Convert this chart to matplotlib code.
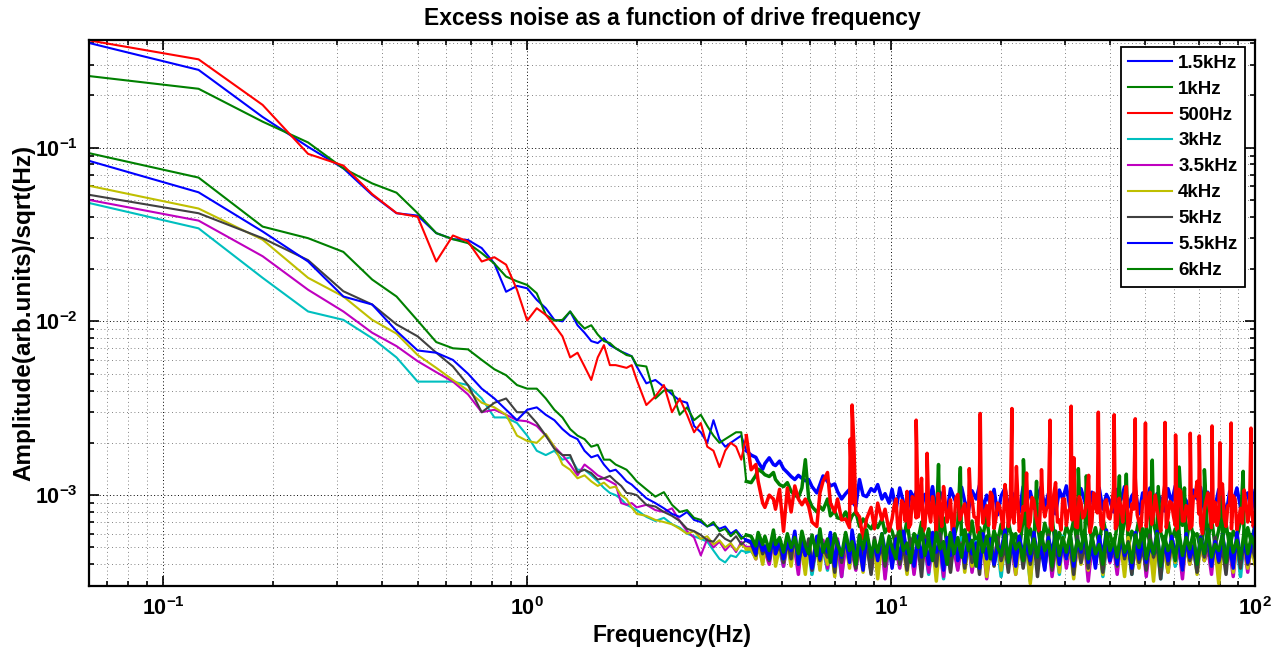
import numpy as np
import matplotlib
matplotlib.use("Agg")
import matplotlib.pyplot as plt
from matplotlib.ticker import LogLocator, FuncFormatter, NullFormatter

# ---------------- data ----------------
# frequency bins (Hz); spectral resolution 0.0625 Hz
f_lo = np.arange(1, 33) * 0.0625                 # 0.0625 .. 2.0
f_mid = 2.0 + np.arange(1, 17) * 0.125            # 2.125 .. 4.0
f_hi = np.round(np.geomspace(4.125, 100.0, 140) / 0.0625) * 0.0625   # 4.125 .. 100
f_hi2 = np.sqrt(f_hi[39:-1] * f_hi[40:])          # extra bins between 10 and 100 Hz (500 Hz trace)

labels = ["1.5kHz", "1kHz", "500Hz", "3kHz", "3.5kHz", "4kHz", "5kHz", "5.5kHz", "6kHz"]

# ---- 1.5 kHz ----
lo_1500 = [0.40, 0.28, 0.150, 0.101, 0.076, 0.0534, 0.0419, 0.0406, 0.0322, 0.0297, 0.0294, 0.0264,
           0.0215, 0.0148, 0.0160, 0.0155, 0.0133, 0.0119, 0.0102, 0.0100, 0.0114, 0.0095, 0.0086, 0.0077,
           0.0075, 0.0080, 0.0073, 0.0070, 0.0067, 0.0065, 0.0063, 0.0055]
mid_1500 = [0.0044, 0.0046, 0.0042, 0.0038, 0.0035, 0.0034, 0.0025, 0.0023, 0.0020, 0.0027, 0.0021,
            0.0019, 0.0020, 0.0021, 0.0022, 0.0018]
hi_1500 = [17, 16.5, 15.5, 14.1, 15.2, 16.4, 15, 14.8, 15.7, 14.2, 13.5, 12.8, 12.3, 13, 12.5, 12.1, 12.3,
           11.2, 10.3, 11.5, 12.9, 12, 11.3, 11.6, 10.5, 9.5, 10.2, 10.8, 9.2, 8.6, 12.3, 10, 9.8, 10.9,
           10.5, 11.5, 9.5, 10.2, 9.0,
           10.8, 8.2, 11.0, 9.1, 7.8, 10.5, 9.6, 11.3, 8.4, 10.1, 9.0, 11.2, 8.0, 10.4, 9.3, 7.9, 10.9, 9.7, 8.6, 11.1, 9.2,
           8.1, 10.6, 9.5, 11.4, 8.3, 10.0, 8.9, 10.8, 7.7, 9.9, 11.0, 8.5, 10.3, 9.4, 8.0, 11.2, 9.1, 10.5, 8.4, 9.8,
           11.1, 8.6, 10.2, 9.0, 7.8, 10.7, 9.5, 11.3, 8.2, 10.0, 8.8, 10.9, 9.3, 7.9, 10.4, 9.7, 11.0, 8.3, 10.1, 9.2,
           8.0, 10.8, 9.4, 11.2, 8.5, 9.9, 10.6, 7.8, 10.3, 9.1, 11.0, 8.4, 10.2, 9.6, 8.1, 10.9, 9.0, 11.3, 8.7, 10.0,
           9.3, 7.9, 10.7, 9.5, 11.1, 8.2, 10.4, 9.0, 8.6, 10.8, 9.7, 7.7, 10.5, 9.2, 11.0, 8.5, 9.8, 10.3, 8.0, 10.6]

# ---- 1 kHz ----
lo_1000 = [0.258, 0.218, 0.141, 0.107, 0.076, 0.0622, 0.0550, 0.0419, 0.0322, 0.0297, 0.0282, 0.0247,
           0.0215, 0.0181, 0.0170, 0.0162, 0.0145, 0.0109, 0.0101, 0.0102, 0.0114, 0.0100, 0.0091, 0.0095,
           0.0084, 0.0077, 0.0075, 0.0070, 0.0067, 0.0064, 0.0063, 0.0056]
mid_1000 = [0.0055, 0.0036, 0.0040, 0.0040, 0.0029, 0.0032, 0.0027, 0.0029, 0.0025, 0.0022, 0.0020,
            0.0021, 0.0022, 0.0023, 0.0023, 0.0012]
hi_1000 = [11.8, 13.0, 14.1, 13.5, 13.1, 12.8, 13.5, 12.3, 11.5, 11.2, 11.8, 10.5, 10.0, 9.7, 11.0, 16.0,
           9.5, 8.6, 8.0, 8.6, 8.2, 9.5, 7.6, 8.1, 7.4, 7.3, 8.0, 7.0, 7.6, 8.0, 6.6, 7.3, 6.8, 6.4, 7.0, 6.5,
           7.3, 6.1, 6.6,
           6.2, 5.1, 6.8, 5.5, 7.2, 4.9, 6.0, 5.6, 7.0, 5.2, 6.4, 4.8, 6.6, 5.4, 7.4, 5.0, 6.1, 5.7, 6.9, 4.7, 6.3,
           5.3, 7.1, 5.0, 6.5, 5.8, 7.6, 4.9, 6.2, 5.4, 6.8, 5.1, 7.0, 5.6, 6.0, 4.8, 7.3, 5.5, 6.4, 5.2, 6.7,
           5.0, 6.9, 5.7, 7.5, 4.9, 6.1, 5.3, 6.6, 5.8, 7.2, 5.1, 6.3, 4.8, 7.0, 5.5, 6.5, 5.2, 7.4, 5.9, 6.0,
           4.9, 6.8, 5.4, 7.1, 5.0, 6.2, 5.7, 7.3, 4.8, 6.5, 5.3, 6.9, 5.6, 6.1, 5.1, 7.0, 5.5, 6.4, 4.9, 6.7,
           5.2, 7.2, 5.8, 6.0, 4.8, 6.6, 5.4, 7.4, 5.1, 6.3, 5.6, 6.9, 5.0, 6.2, 5.7, 7.1, 4.9, 6.5, 5.3, 6.8]
spike_f_1000 = [13.5, 15.5, 23.1, 25.1, 32.7, 34.4, 42.4, 44.3, 52.2, 54.2, 61.9, 64.0, 72.6, 81.3, 92.8]
spike_v_1000 = [15.0, 14.4, 16.0, 12.0, 14.2, 12.9, 12.9, 13.2, 15.9, 11.2, 14.5, 11.0, 14.0, 11.2, 13.7]

# ---- 500 Hz ----
lo_500 = [0.414, 0.322, 0.176, 0.092, 0.0788, 0.054, 0.042, 0.040, 0.0221, 0.0312, 0.0288, 0.0221,
          0.0234, 0.0212, 0.0152, 0.0101, 0.0119, 0.0109, 0.0095, 0.0082, 0.0062, 0.0066, 0.0055, 0.0046,
          0.0062, 0.0073, 0.0056, 0.0056, 0.0055, 0.0054, 0.0056, 0.0046]
mid_500 = [0.0033, 0.0037, 0.0043, 0.0030, 0.0036, 0.0029, 0.0023, 0.0026, 0.0019, 0.0018, 0.00145,
           0.0018, 0.0020, 0.0019, 0.0016, 0.0022]
hi_500 = [14, 15, 12, 9, 8.5, 10, 9.5, 8.3, 10.8, 6.2, 11, 8, 11.3, 9.5, 8.8, 9.5, 8.6, 7, 6.6, 10.3, 12,
          13.5, 9, 8, 9.5, 7.2, 7.3, 6.5, 9, 8, 7.5, 5.6, 7.3, 8.5, 6.4, 9, 7.2, 8.3, 6.2,
          7.3, 9.5, 6.2, 8.8, 10.5, 6.8, 9.2, 7.5, 12.5, 6.5, 8.2, 9.8, 6.1, 8.5, 11.2, 7.0, 9.4, 6.6, 10.1, 7.8, 8.9,
          6.3, 9.6, 7.4, 12.8, 6.9, 8.7, 10.4, 6.4, 9.0, 7.7, 11.5, 6.6, 8.3, 9.9, 6.2, 8.6, 13.4, 7.1, 9.3, 6.8,
          10.2, 7.5, 8.8, 6.3, 11.8, 7.2, 9.5, 6.7, 8.4, 10.6, 6.5, 9.1, 7.6, 12.2, 6.9, 8.6, 10.0, 6.4, 9.4, 7.3,
          11.0, 6.8, 8.5, 9.8, 6.3, 8.9, 12.6, 7.0, 9.2, 6.6, 10.4, 7.7, 8.3, 6.2, 11.4, 7.4, 9.0, 6.7, 10.8, 7.1,
          8.7, 6.4, 9.7, 12.0, 6.9, 8.2, 10.3, 6.5, 9.1, 7.5, 11.6, 6.6, 8.8, 9.9, 6.3, 8.4, 10.7, 7.0, 9.3, 7.2]
hi2_500 = [8.6, 6.4, 9.3, 7.1, 6.5, 9.8, 7.4, 8.9, 6.2, 9.5, 7.0, 8.3, 10.2, 6.6, 9.0, 7.7, 6.3, 9.6, 7.2, 8.5,
           6.8, 10.4, 7.5, 6.1, 9.2, 8.0, 6.7, 9.9, 7.3, 8.7, 6.4, 9.4, 7.8, 6.9, 10.6, 7.1, 8.2, 6.5, 9.7, 7.6,
           6.2, 9.0, 8.4, 6.8, 10.1, 7.0, 6.3, 9.5, 8.1, 7.2, 6.6, 9.8, 7.4, 8.8, 6.1, 10.3, 7.9, 6.7, 9.1, 7.5,
           8.6, 6.4, 9.6, 7.0, 11.2, 6.9, 8.3, 7.7, 6.2, 9.4, 8.0, 6.8, 10.0, 7.3, 8.9, 6.5, 9.2, 7.6, 6.3, 10.5,
           7.1, 8.4, 6.6, 9.9, 7.8, 6.0, 9.3, 8.2, 7.0, 6.7, 10.2, 7.4, 8.7, 6.4, 9.5, 7.2, 6.9, 9.0, 8.1, 6.6]
spike_f_500 = [7.72, 7.8125, 7.9, 11.72, 12.56, 16.4, 17.58, 21.48, 22.1, 25.9, 27.34, 31.25, 31.8, 34.9,
               37.11, 41.02, 46.88, 50.0, 56.6, 60.5, 66.4, 70.3, 76.2, 80.1, 86.0, 97.5]
spike_v_500 = [21.0, 33.0, 20.0, 27.0, 17.4, 14.2, 29.5, 31.5, 14.6, 14.0, 27.0, 32.5, 16.4, 13.0,
               30.0, 29.0, 27.5, 26.0, 26.2, 22.2, 22.7, 21.9, 25.0, 20.0, 26.0, 24.3]

# ---- 3 kHz ----
lo_3000 = [0.0480, 0.0343, 0.0178, 0.0114, 0.0102, 0.0080, 0.0062, 0.0045, 0.0045, 0.0045, 0.0043,
           0.0036, 0.0028, 0.0028, 0.0026, 0.0022, 0.0018, 0.0017, 0.0018, 0.0016, 0.00165, 0.0014, 0.0014,
           0.0013, 0.0012, 0.0011, 0.00103, 0.0010, 0.00095, 0.00088, 0.00085, 0.00082]
mid_3000 = [0.00075, 0.00071, 0.00074, 0.00068, 0.00065, 0.00060, 0.00058, 0.00056, 0.00054, 0.00048,
            0.00043, 0.00041, 0.00045, 0.00044, 0.00048, 0.00047]
hi_3000 = [4.8, 4.4, 5.3, 4.1, 5.0, 4.5, 5.5, 4.2, 4.9, 3.9, 5.4, 4.2, 5.1, 3.8, 5.6, 4.1, 4.8, 3.5, 5.2, 4.4,
           5.0, 3.7, 5.5, 4.1, 5.2, 3.4, 5.6, 4.0, 4.9, 3.8, 5.3, 4.3, 5.7, 3.6, 5.0, 4.2, 5.4, 3.5, 5.1, 4.0,
           5.5, 3.9, 5.0, 4.2, 5.3, 3.6, 5.8, 4.1, 5.1, 3.5, 5.4, 4.4, 5.0, 3.3, 5.6, 4.0, 5.2, 3.8, 5.7, 4.2,
           5.1, 3.7, 5.4, 4.1, 5.9, 3.6, 5.2, 4.3, 5.0, 3.4, 5.5, 4.0, 5.3, 3.8, 5.7, 4.2, 5.0, 3.2, 5.4, 4.1,
           5.6, 3.9, 5.1, 4.3, 5.3, 3.5, 5.8, 4.0, 5.0, 3.7, 5.4, 4.2, 6.1, 3.6, 5.2, 4.1, 5.5, 3.4, 5.0, 4.3,
           5.3, 3.8, 5.7, 4.0, 5.1, 3.5, 5.4, 4.2, 5.9, 3.7, 5.0, 4.1, 5.6, 3.3, 5.2, 4.4, 5.5, 3.9, 5.0, 3.6,
           5.4, 4.1, 5.0, 3.6, 5.7, 4.2, 5.2, 3.8, 5.5, 3.5, 5.1, 4.3, 5.8, 3.9, 5.3, 3.4, 5.6, 4.0, 5.1, 4.2]

# ---- 3.5 kHz ----
lo_3500 = [0.0500, 0.0380, 0.0237, 0.0152, 0.0114, 0.0086, 0.0072, 0.0059, 0.0051, 0.0045, 0.0038,
           0.0030, 0.0031, 0.0029, 0.0027, 0.00266, 0.0025, 0.0022, 0.0019, 0.0017, 0.0015, 0.0013, 0.0015,
           0.0014, 0.0013, 0.00125, 0.0012, 0.00115, 0.0009, 0.00088, 0.0009, 0.00085]
mid_3500 = [0.00088, 0.00082, 0.00080, 0.00084, 0.00071, 0.00062, 0.00057, 0.00045, 0.00056, 0.00050,
            0.00054, 0.00048, 0.00052, 0.00047, 0.00054, 0.00050]
hi_3500 = [5.0, 4.3, 5.5, 4.5, 4.8, 4.0, 5.6, 4.3, 5.2, 3.9, 5.4, 4.4, 4.9, 3.5, 5.7, 4.2, 5.1, 3.7, 5.3, 4.0,
           5.5, 3.8, 5.0, 4.3, 5.6, 3.4, 5.2, 4.1, 4.8, 3.7, 5.4, 4.2, 5.8, 3.6, 5.1, 4.0, 5.3, 3.3, 5.6, 4.4,
           4.9, 3.8, 5.5, 4.1, 5.2, 3.5, 5.7, 4.3, 5.0, 3.6, 5.4, 4.0, 5.1, 3.4, 5.6, 4.2, 4.9, 3.7, 5.3, 4.1,
           5.7, 3.6, 5.1, 4.3, 5.4, 3.3, 5.0, 4.0, 5.6, 3.8, 5.2, 4.2, 4.8, 3.5, 5.5, 4.1, 5.3, 3.7, 5.7, 3.9,
           5.2, 4.1, 5.5, 3.4, 5.0, 4.2, 5.6, 3.8, 5.3, 3.6, 4.9, 4.3, 5.4, 3.2, 5.1, 4.0, 5.7, 3.7, 5.2, 4.1,
           5.0, 3.5, 5.6, 4.2, 5.3, 3.7, 4.9, 4.0, 5.5, 3.4, 5.2, 4.3, 5.7, 3.8, 5.0, 3.6, 5.4, 4.1, 5.1, 3.3,
           5.6, 4.0, 5.2, 3.7, 5.4, 4.2, 5.0, 3.5, 5.7, 3.9, 5.3, 4.1, 4.9, 3.4, 5.5, 4.3, 5.1, 3.6, 5.4, 4.2]

# ---- 4 kHz ----
lo_4000 = [0.0603, 0.0446, 0.0295, 0.0178, 0.0139, 0.0102, 0.0085, 0.0064, 0.0054, 0.0046, 0.0040,
           0.0034, 0.0032, 0.0029, 0.0022, 0.00205, 0.0020, 0.00225, 0.0019, 0.0015, 0.0014, 0.00125, 0.0013,
           0.0012, 0.00113, 0.00118, 0.0011, 0.00112, 0.0010, 0.00095, 0.00085, 0.00078]
mid_4000 = [0.00076, 0.00072, 0.00070, 0.00068, 0.00064, 0.00060, 0.00062, 0.00056, 0.00058, 0.00052,
            0.00055, 0.00050, 0.00053, 0.00048, 0.00052, 0.00049]
hi_4000 = [4.9, 4.3, 5.4, 4.0, 5.1, 4.4, 5.6, 3.9, 5.0, 4.2, 5.3, 3.9, 5.7, 4.0, 4.8, 3.5, 5.5, 4.3, 5.0, 3.7,
           5.2, 4.0, 5.6, 3.4, 5.0, 4.3, 5.4, 3.8, 5.8, 4.1, 4.9, 3.6, 5.3, 4.4, 5.1, 3.3, 5.5, 4.0, 5.2, 3.9,
           5.6, 4.2, 5.0, 3.5, 5.4, 4.1, 5.7, 3.8, 5.1, 4.4, 5.3, 3.2, 5.5, 4.0, 5.0, 3.7, 5.8, 4.3, 5.2, 3.6,
           5.4, 3.9, 5.1, 4.2, 5.6, 3.4, 5.0, 4.0, 5.5, 3.7, 5.2, 4.3, 5.7, 3.5, 4.9, 4.1, 5.3, 3.1, 5.6, 4.2,
           5.0, 3.8, 5.5, 4.1, 5.2, 3.6, 5.7, 4.3, 4.9, 3.3, 5.4, 4.0, 5.1, 3.7, 5.6, 4.2, 5.0, 3.5, 5.3, 4.4,
           5.5, 3.9, 5.1, 3.4, 5.7, 4.2, 5.0, 3.8, 5.4, 4.0, 5.2, 3.2, 5.6, 4.3, 4.9, 3.6, 5.3, 4.1, 5.8, 3.7,
           5.1, 4.0, 5.5, 3.5, 5.2, 4.2, 5.6, 3.9, 5.0, 3.1, 5.4, 4.1, 5.7, 3.6, 5.1, 4.3, 5.3, 3.8, 5.0, 4.0]

# ---- 5 kHz ----
lo_5000 = [0.0535, 0.0419, 0.0301, 0.0225, 0.0149, 0.0125, 0.0096, 0.0082, 0.0066, 0.0055, 0.0043,
           0.0030, 0.0034, 0.0036, 0.0030, 0.0030, 0.0026, 0.0022, 0.00185, 0.0017, 0.0017, 0.00135, 0.0014,
           0.00134, 0.00123, 0.00125, 0.00129, 0.0012, 0.00113, 0.00103, 0.00102, 0.0010]
mid_5000 = [0.00088, 0.00086, 0.00080, 0.00076, 0.00071, 0.00064, 0.00062, 0.00059, 0.00055, 0.00054,
            0.00060, 0.00056, 0.00054, 0.00058, 0.00052, 0.00055]
hi_5000 = [5.3, 4.5, 5.7, 4.6, 5.0, 4.2, 5.9, 4.6, 5.2, 4.1, 5.5, 4.3, 6.0, 4.0, 5.1, 4.5, 5.6, 3.7, 5.4, 4.2,
           5.0, 4.4, 5.8, 3.6, 5.3, 4.1, 5.6, 4.7, 5.1, 3.8, 5.9, 4.2, 5.4, 3.5, 5.7, 4.4, 5.0, 3.9, 5.5, 4.3,
           5.8, 4.0, 5.2, 3.7, 5.6, 4.5, 5.0, 3.4, 5.7, 4.2, 5.3, 3.9, 6.0, 4.3, 5.1, 3.6, 5.5, 4.6, 5.2, 3.8,
           5.6, 4.1, 5.0, 3.5, 5.9, 4.4, 5.3, 3.9, 5.7, 4.2, 5.1, 3.6, 5.5, 4.5, 5.8, 3.8, 5.2, 4.0, 5.6, 3.4,
           5.4, 4.3, 5.9, 3.7, 5.1, 4.0, 5.6, 4.4, 5.2, 3.5, 5.8, 4.1, 5.3, 3.8, 5.7, 4.6, 5.0, 3.6, 5.5, 4.2,
           5.1, 3.9, 5.8, 4.3, 5.4, 3.5, 5.6, 4.1, 5.0, 3.7, 5.9, 4.4, 5.3, 3.3, 5.7, 4.0, 5.2, 4.5, 5.5, 3.8,
           5.6, 4.2, 5.1, 3.6, 5.8, 4.4, 5.3, 3.9, 5.7, 4.1, 5.0, 3.5, 5.9, 4.3, 5.4, 3.8, 5.6, 4.0, 5.2, 4.4]

# ---- 5.5 kHz ----
lo_5500 = [0.0839, 0.0553, 0.0329, 0.0221, 0.0139, 0.0125, 0.0088, 0.0068, 0.0066, 0.0060, 0.0050,
           0.0041, 0.0036, 0.0031, 0.0027, 0.0031, 0.0032, 0.0029, 0.0027, 0.0024, 0.0022, 0.0021, 0.0018,
           0.00165, 0.0017, 0.0015, 0.00137, 0.0014, 0.0013, 0.0012, 0.00115, 0.00108]
mid_5500 = [0.00096, 0.00090, 0.00084, 0.00078, 0.00075, 0.00080, 0.00072, 0.00070, 0.00066, 0.00068,
            0.00064, 0.00066, 0.00060, 0.00063, 0.00058, 0.00055]
hi_5500 = [5.4, 4.6, 5.9, 4.8, 5.1, 4.3, 6.0, 4.6, 5.6, 4.3, 5.3, 4.8, 6.2, 4.0, 5.5, 4.5, 5.0, 3.8, 5.8, 4.3,
           5.2, 4.7, 6.1, 3.9, 5.4, 4.4, 5.7, 4.1, 6.3, 4.6, 5.0, 3.7, 5.9, 4.5, 5.3, 4.2, 6.0, 4.8, 5.1, 3.8,
           5.6, 4.3, 6.2, 4.6, 4.9, 3.9, 5.8, 4.4, 5.5, 4.0, 6.1, 4.7, 5.2, 3.7, 5.7, 4.5, 6.4, 4.2, 5.0, 4.1,
           5.9, 4.6, 5.3, 3.8, 6.0, 4.3, 5.6, 4.0, 5.1, 4.8, 6.3, 4.1, 5.4, 3.9, 5.8, 4.5, 5.2, 4.2, 6.1, 4.4,
           5.0, 3.7, 5.7, 4.6, 6.2, 4.0, 5.3, 4.3, 5.9, 3.9, 5.5, 4.7, 6.0, 4.1, 5.1, 3.8, 5.8, 4.4, 6.3, 4.2,
           5.4, 4.0, 5.9, 4.5, 5.2, 3.8, 6.1, 4.3, 5.6, 4.1, 5.0, 4.6, 6.2, 3.9, 5.5, 4.2, 5.8, 4.7, 5.3, 3.7,
           6.0, 4.4, 5.1, 4.0, 5.7, 4.6, 6.3, 3.9, 5.4, 4.2, 5.9, 4.5, 5.0, 3.8, 6.1, 4.3, 5.6, 4.1, 5.2, 6.5]

# ---- 6 kHz ----
lo_6000 = [0.0929, 0.0672, 0.0351, 0.0301, 0.0251, 0.0174, 0.0139, 0.0101, 0.0076, 0.0070, 0.0069,
           0.0060, 0.0053, 0.0049, 0.0043, 0.0041, 0.0041, 0.0036, 0.0031, 0.0028, 0.0024, 0.0022, 0.0021,
           0.0019, 0.00195, 0.0016, 0.0016, 0.0015, 0.00145, 0.0014, 0.0013, 0.0012]
mid_6000 = [0.00108, 0.00098, 0.00104, 0.00088, 0.00080, 0.00082, 0.00074, 0.00072, 0.00066, 0.00070,
            0.00062, 0.00064, 0.00058, 0.00062, 0.00056, 0.00059]
hi_6000 = [5.8, 5.1, 6.1, 5.2, 5.8, 4.8, 6.3, 5.2, 5.7, 4.7, 6.0, 5.0, 5.7, 4.6, 6.2, 5.1, 4.6, 5.9, 4.5, 6.4,
           4.7, 5.6, 4.1, 6.0, 5.2, 4.5, 6.1, 4.8, 5.4, 4.0, 5.9, 4.9, 6.3, 4.4, 5.5, 4.7, 6.0, 4.2, 5.8, 5.0,
           4.3, 6.2, 4.8, 5.3, 4.1, 5.9, 5.0, 6.4, 4.5, 5.6, 4.2, 6.1, 4.9, 5.4, 4.0, 6.0, 4.6, 5.7, 4.4, 6.3,
           4.8, 5.5, 3.9, 6.1, 4.7, 5.8, 4.3, 6.2, 5.0, 4.5, 5.9, 4.1, 6.0, 4.9, 5.3, 4.2, 6.4, 4.6, 5.6, 4.4,
           6.1, 4.8, 5.4, 3.9, 6.2, 4.5, 5.7, 4.7, 6.0, 4.2, 5.5, 4.9, 6.3, 4.3, 5.8, 4.6, 5.2, 4.0, 6.1, 4.8,
           5.6, 4.4, 6.2, 4.7, 5.3, 4.1, 5.9, 5.0, 6.4, 4.3, 5.5, 4.6, 6.0, 3.9, 5.8, 4.8, 5.4, 4.2, 6.2, 4.5,
           5.7, 4.9, 6.1, 4.0, 5.6, 4.6, 6.3, 4.4, 5.2, 4.8, 5.9, 4.1, 6.0, 4.7, 5.5, 4.3, 6.2, 4.6, 5.8, 5.0]

colors = ["#0000ff", "#008000", "#ff0000", "#00bfbf", "#bf00bf", "#bfbf00", "#404040", "#0000ff", "#008000"]

# ---------------- style ----------------
plt.rcParams['font.family'] = ['Liberation Sans', 'DejaVu Sans']
plt.rcParams['font.weight'] = 'bold'
plt.rcParams['mathtext.fontset'] = 'custom'
plt.rcParams['mathtext.rm'] = 'Liberation Sans:bold'
plt.rcParams['mathtext.it'] = 'Liberation Sans:bold'
plt.rcParams['mathtext.bf'] = 'Liberation Sans:bold'
plt.rcParams['mathtext.default'] = 'rm'


def build(lo, mid, hi, extras=()):
    """Join the sections of one trace; extras are (freqs, values in 1e-4) pairs."""
    fs = [f_lo, f_mid, f_hi]
    vs = [np.asarray(lo), np.asarray(mid), np.asarray(hi) * 1e-4]
    for ef, ev in extras:
        fs.append(np.asarray(ef))
        vs.append(np.asarray(ev) * 1e-4)
    f = np.concatenate(fs)
    v = np.concatenate(vs)
    order = np.argsort(f, kind="stable")
    return f[order], v[order]


series = [
    build(lo_1500, mid_1500, hi_1500),
    build(lo_1000, mid_1000, hi_1000, [(spike_f_1000, spike_v_1000)]),
    build(lo_500, mid_500, hi_500, [(f_hi2, hi2_500), (spike_f_500, spike_v_500)]),
    build(lo_3000, mid_3000, hi_3000),
    build(lo_3500, mid_3500, hi_3500),
    build(lo_4000, mid_4000, hi_4000),
    build(lo_5000, mid_5000, hi_5000),
    build(lo_5500, mid_5500, hi_5500),
    build(lo_6000, mid_6000, hi_6000),
]

W, H = 1287, 653
fig = plt.figure(figsize=(W / 100, H / 100), dpi=100)
ax = fig.add_axes([89 / W, 1 - 586 / H, (1255 - 89) / W, (586 - 40) / H])

split_f = 4.0
for (f, v), c, lab in zip(series, colors, labels):
    a = f <= split_f
    b = f >= split_f
    ax.plot(f[a], v[a], color=c, lw=1.5, label=lab)
    ax.plot(f[b], v[b], color=c, lw=2.5)

ax.set_xscale('log')
ax.set_yscale('log')
ax.set_xlim(0.0625, 100)
ax.set_ylim(3.0e-4, 0.416)

fmt = FuncFormatter(lambda val, pos: r'$10^{%d}$' % int(round(np.log10(val))))
ax.xaxis.set_major_locator(LogLocator(base=10, numticks=10))
ax.yaxis.set_major_locator(LogLocator(base=10, numticks=10))
ax.xaxis.set_minor_locator(LogLocator(base=10, subs=np.arange(2, 10), numticks=20))
ax.yaxis.set_minor_locator(LogLocator(base=10, subs=np.arange(2, 10), numticks=20))
ax.xaxis.set_major_formatter(fmt)
ax.yaxis.set_major_formatter(fmt)
ax.xaxis.set_minor_formatter(NullFormatter())
ax.yaxis.set_minor_formatter(NullFormatter())

ax.tick_params(which='both', direction='in', top=True, right=True, width=1.2, labelsize=15.5)
ax.tick_params(which='major', length=7.5, pad=8)
ax.tick_params(which='minor', length=3.5)

ax.grid(which='major', linestyle=(0, (1, 2.5)), color='black', linewidth=0.7)
ax.grid(which='minor', linestyle=(0, (1, 3.5)), color='0.35', linewidth=0.6)
ax.set_axisbelow(True)

for sp in ax.spines.values():
    sp.set_linewidth(1.6)

ax.set_title('Excess noise as a function of drive frequency', fontsize=16.5, fontweight='bold', pad=11)
ax.set_xlabel('Frequency(Hz)', fontsize=16.5, fontweight='bold', labelpad=3)
ax.set_ylabel('Amplitude(arb.units)/sqrt(Hz)', fontsize=17.5, fontweight='bold', labelpad=0)

leg = ax.legend(loc='upper right', bbox_to_anchor=((1245 - 89) / (1255 - 89), (586 - 47) / (586 - 40)),
                borderaxespad=0, fontsize=13.5, frameon=True, fancybox=False, edgecolor='black',
                framealpha=1, labelspacing=0.47, handlelength=2.35, handletextpad=0.32, borderpad=0.4)
leg.get_frame().set_linewidth(1.3)
for t in leg.get_texts():
    t.set_fontweight('bold')

fig.savefig('out.png', dpi=100)
